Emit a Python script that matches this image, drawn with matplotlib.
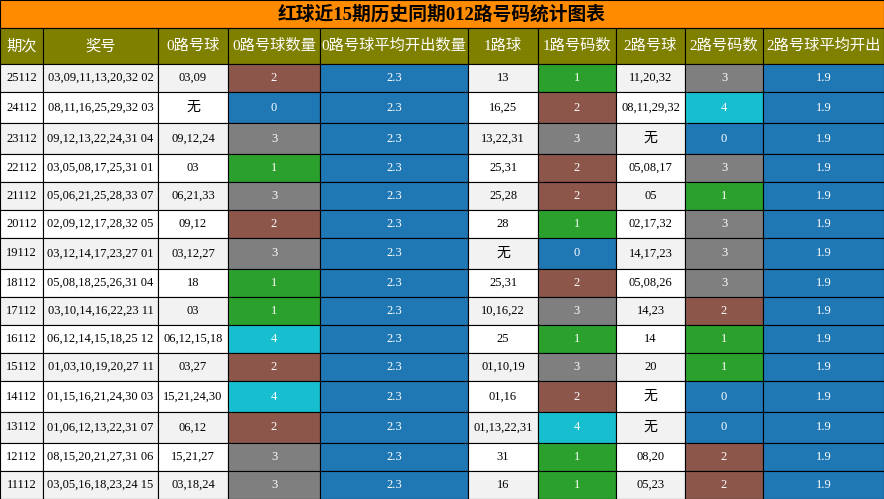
import matplotlib.pyplot as plt
from matplotlib.patches import Rectangle

TITLE = "红球近15期历史同期012路号码统计图表"
HEADERS = ["期次", "奖号", "0路号球", "0路号球数量", "0路号球平均开出数量",
           "1路球", "1路号码数", "2路号球", "2路号码数", "2路号球平均开出"]
periods = ["25112", "24112", "23112", "22112", "21112", "20112", "19112", "18112",
           "17112", "16112", "15112", "14112", "13112", "12112", "11112"]
draws = ["03,09,11,13,20,32 02", "08,11,16,25,29,32 03", "09,12,13,22,24,31 04",
         "03,05,08,17,25,31 01", "05,06,21,25,28,33 07", "02,09,12,17,28,32 05",
         "03,12,14,17,23,27 01", "05,08,18,25,26,31 04", "03,10,14,16,22,23 11",
         "06,12,14,15,18,25 12", "01,03,10,19,20,27 11", "01,15,16,21,24,30 03",
         "01,06,12,13,22,31 07", "08,15,20,21,27,31 06", "03,05,16,18,23,24 15"]
road0 = ["03,09", "无", "09,12,24", "03", "06,21,33", "09,12", "03,12,27", "18", "03",
         "06,12,15,18", "03,27", "15,21,24,30", "06,12", "15,21,27", "03,18,24"]
count0 = [2, 0, 3, 1, 3, 2, 3, 1, 1, 4, 2, 4, 2, 3, 3]
avg0 = "2.3"
road1 = ["13", "16,25", "13,22,31", "25,31", "25,28", "28", "无", "25,31", "10,16,22",
         "25", "01,10,19", "01,16", "01,13,22,31", "31", "16"]
count1 = [1, 2, 3, 2, 2, 1, 0, 2, 3, 1, 3, 2, 4, 1, 1]
road2 = ["11,20,32", "08,11,29,32", "无", "05,08,17", "05", "02,17,32", "14,17,23",
         "05,08,26", "14,23", "14", "20", "无", "无", "08,20", "05,23"]
count2 = [3, 4, 0, 3, 1, 3, 3, 3, 2, 1, 1, 0, 0, 2, 2]
avg2 = "1.9"

COUNT_COLORS = {0: "#1f77b4", 1: "#2ca02c", 2: "#8c564b", 3: "#7f7f7f", 4: "#17becf"}
AVG_COLOR = "#1f77b4"
col_w = [43, 115, 70, 92, 148, 70, 78, 69, 78, 121]
FONT = ["Liberation Serif", "Noto Sans CJK SC"]

W, H = 884, 499
fig = plt.figure(figsize=(W / 100, H / 100), dpi=100)
ax = fig.add_axes([0, 0, 1, 1])
ax.set_xlim(0, W)
ax.set_ylim(H, 0)
ax.axis("off")


def cell(x, y, w, h, text, face, color="black", size=9.5, weight="normal"):
    ax.add_patch(Rectangle((x, y), w, h, facecolor=face, edgecolor="black", linewidth=0.8))
    ax.text(x + w / 2, y + h / 2, text, ha="center", va="center", color=color,
            fontsize=size, fontweight=weight, family=FONT)


cell(0, 0, W, 28, TITLE, "#ff8c00", size=13.5, weight="bold")
x = 0
for w, h in zip(col_w, HEADERS):
    cell(x, 28, w, 36, h, "#808000", color="white", size=11)
    x += w

y = 64
for i in range(len(periods)):
    rh = 31 if "无" in (road0[i], road1[i], road2[i]) else 28
    bg = "white" if i % 2 else "#f2f2f2"
    vals = [
        (periods[i], bg, "black"), (draws[i], bg, "black"),
        (road0[i], bg, "black"), (str(count0[i]), COUNT_COLORS[count0[i]], "white"),
        (avg0, AVG_COLOR, "white"), (road1[i], bg, "black"),
        (str(count1[i]), COUNT_COLORS[count1[i]], "white"), (road2[i], bg, "black"),
        (str(count2[i]), COUNT_COLORS[count2[i]], "white"), (avg2, AVG_COLOR, "white"),
    ]
    x = 0
    for w, (t, face, c) in zip(col_w, vals):
        size = 10 if t == "无" else 9
        cell(x, y, w, rh, t, face, color=c, size=size)
        x += w
    y += rh

fig.savefig("out.png", dpi=100)
